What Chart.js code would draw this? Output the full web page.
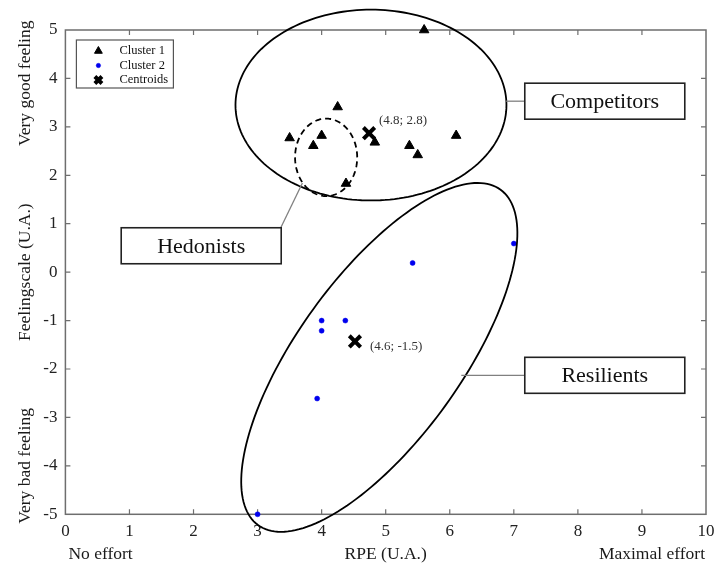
<!DOCTYPE html>
<html><head><meta charset="utf-8">
<script src="https://cdn.jsdelivr.net/npm/chart.js@4/dist/chart.umd.min.js"></script>
<style>html,body{margin:0;padding:0;background:#fff}canvas{display:block}</style>
</head><body>
<canvas id="c" width="718" height="565"></canvas>
<script>
// ---- data ----
const cluster1X = [5.6, 3.5, 3.87, 4.0, 4.25, 4.83, 5.37, 5.5, 6.1, 4.38];
const cluster1Y = [5.0, 2.77, 2.61, 2.82, 3.41, 2.68, 2.61, 2.42, 2.82, 1.83];
const cluster2X = [7.0, 5.42, 4.0, 4.37, 4.0, 3.93, 3.0];
const cluster2Y = [0.59, 0.19, -1.0, -1.0, -1.21, -2.61, -5.0];
const centroidX = [4.74, 4.52];
const centroidY = [2.87, -1.43];
const centroidLabels = ['(4.8; 2.8)', '(4.6; -1.5)'];
const seriesNames = ['Cluster 1', 'Cluster 2', 'Centroids'];
const groupNames = ['Competitors', 'Hedonists', 'Resilients'];
const xRange = [0, 10];
const yRange = [-5, 5];
const xTitle = 'RPE (U.A.)', xLow = 'No effort', xHigh = 'Maximal effort';
const yTitle = 'Feelingscale (U.A.)', yLow = 'Very bad feeling', yHigh = 'Very good feeling';

// ---- annotation geometry (data units) ----
const ellipses = [
  {c:[4.77, 3.45], u:[2.115, 0], v:[0, 1.97], dash:[]},
  {c:[4.07, 2.37], u:[0.485, 0], v:[0, 0.80], dash:[6,4]},
  {c:[4.90, -1.76], u:[1.893, 3.462], v:[1.031, -0.996], dash:[]}
];
const boxes = [
  {c:[8.42, 3.53], link:[[6.88, 3.53],[7.17, 3.53]]},
  {c:[2.12, 0.545], link:[[3.36, 0.912],[3.70, 1.842]]},
  {c:[8.42, -2.13], link:[[6.18, -2.13],[7.17, -2.13]]}
];

const toPts = (xs, ys) => xs.map((x, i) => ({x, y: ys[i]}));
const SERIF = '"Liberation Serif", "DejaVu Serif", serif';

const deco = {
  id: 'deco',
  beforeDatasetsDraw(chart) {
    const ctx = chart.ctx, a = chart.chartArea;
    const xs = chart.scales.x, ys = chart.scales.y;
    ctx.save();
    ctx.strokeStyle = '#6e6e6e'; ctx.lineWidth = 1.5;
    ctx.strokeRect(a.left, a.top, a.right - a.left, a.bottom - a.top);
    ctx.lineWidth = 1.2;
    for (let v = xRange[0] + 1; v < xRange[1]; v++) {
      const px = xs.getPixelForValue(v);
      ctx.beginPath(); ctx.moveTo(px, a.bottom); ctx.lineTo(px, a.bottom - 5);
      ctx.moveTo(px, a.top); ctx.lineTo(px, a.top + 5); ctx.stroke();
    }
    for (let v = yRange[0] + 1; v < yRange[1]; v++) {
      const py = ys.getPixelForValue(v);
      ctx.beginPath(); ctx.moveTo(a.left, py); ctx.lineTo(a.left + 5, py);
      ctx.moveTo(a.right, py); ctx.lineTo(a.right - 5, py); ctx.stroke();
    }
    ctx.restore();
  },
  afterDatasetsDraw(chart) {
    const ctx = chart.ctx, a = chart.chartArea;
    const xs = chart.scales.x, ys = chart.scales.y;
    const P = (p) => [xs.getPixelForValue(p[0]), ys.getPixelForValue(p[1])];
    ctx.save();
    // ellipses
    ctx.strokeStyle = '#000'; ctx.lineWidth = 1.8;
    ellipses.forEach(e => {
      ctx.setLineDash(e.dash);
      ctx.beginPath();
      for (let k = 0; k <= 180; k++) {
        const t = k / 180 * Math.PI * 2;
        const p = P([e.c[0] + e.u[0]*Math.cos(t) + e.v[0]*Math.sin(t),
                     e.c[1] + e.u[1]*Math.cos(t) + e.v[1]*Math.sin(t)]);
        k ? ctx.lineTo(p[0], p[1]) : ctx.moveTo(p[0], p[1]);
      }
      ctx.closePath(); ctx.stroke();
    });
    ctx.setLineDash([]);
    // connectors and boxes
    boxes.forEach((b, i) => {
      ctx.strokeStyle = '#808080'; ctx.lineWidth = 1.3;
      const p0 = P(b.link[0]), p1 = P(b.link[1]);
      ctx.beginPath(); ctx.moveTo(p0[0], p0[1]); ctx.lineTo(p1[0], p1[1]); ctx.stroke();
      const c = P(b.c), w = 160, h = 36;
      ctx.fillStyle = '#fff';
      ctx.fillRect(c[0] - w/2, c[1] - h/2, w, h);
      ctx.strokeStyle = '#222'; ctx.lineWidth = 1.6;
      ctx.strokeRect(c[0] - w/2, c[1] - h/2, w, h);
      ctx.fillStyle = '#111'; ctx.font = '22px ' + SERIF;
      ctx.textAlign = 'center'; ctx.textBaseline = 'middle';
      ctx.fillText(groupNames[i], c[0], c[1] + 1);
    });
    // centroid labels
    ctx.fillStyle = '#333'; ctx.font = '13px ' + SERIF;
    ctx.textAlign = 'left'; ctx.textBaseline = 'middle';
    const offs = [[10, -13], [15, 5]];
    centroidX.forEach((x, i) => {
      const p = P([x, centroidY[i]]);
      ctx.fillText(centroidLabels[i], p[0] + offs[i][0], p[1] + offs[i][1]);
    });
    // legend
    const lx = a.left + 11, ly = a.top + 10, lw = 97, lh = 48;
    ctx.fillStyle = '#fff'; ctx.fillRect(lx, ly, lw, lh);
    ctx.strokeStyle = '#555'; ctx.lineWidth = 1.2; ctx.strokeRect(lx, ly, lw, lh);
    seriesNames.forEach((n, i) => {
      const yy = ly + 11 + i * 14.5;
      const ds = chart.data.datasets[i];
      ctx.fillStyle = ds.backgroundColor; ctx.strokeStyle = ds.borderColor;
      ctx.lineWidth = ds.borderWidth;
      Chart.helpers.drawPoint(ctx, {pointStyle: ds.pointStyle, radius: ds.legendRadius,
        rotation: 0, borderWidth: ds.borderWidth}, lx + 22, yy);
      ctx.font = '12.5px ' + SERIF; ctx.fillStyle = '#111';
      ctx.textAlign = 'left'; ctx.textBaseline = 'middle';
      ctx.fillText(n, lx + 43, yy);
    });
    // axis titles and side labels
    ctx.fillStyle = '#1a1a1a'; ctx.font = '17.5px ' + SERIF;
    ctx.textAlign = 'center'; ctx.textBaseline = 'middle';
    const ty = a.bottom + 40;
    ctx.fillText(xTitle, (a.left + a.right) / 2, ty);
    ctx.textAlign = 'left'; ctx.fillText(xLow, a.left + 3, ty);
    ctx.textAlign = 'right'; ctx.fillText(xHigh, a.right - 1, ty);
    ctx.textAlign = 'center';
    const tx = 25;
    [[yTitle, 0], [yHigh, 3.9], [yLow, -4.0]].forEach(([s, v]) => {
      ctx.save(); ctx.translate(tx, ys.getPixelForValue(v)); ctx.rotate(-Math.PI / 2);
      ctx.fillText(s, 0, 0); ctx.restore();
    });
    ctx.restore();
  }
};

new Chart(document.getElementById('c'), {
  type: 'scatter',
  data: {
    datasets: [
      {label: seriesNames[0], data: toPts(cluster1X, cluster1Y), pointStyle: 'triangle', clip: false,
       radius: 5.5, legendRadius: 4.5, backgroundColor: '#000', borderColor: '#000', borderWidth: 1},
      {label: seriesNames[1], data: toPts(cluster2X, cluster2Y), pointStyle: 'circle', clip: false,
       radius: 2.5, legendRadius: 2.2, backgroundColor: '#0000ee', borderColor: '#0000ee', borderWidth: 0.5},
      {label: seriesNames[2], data: toPts(centroidX, centroidY), pointStyle: 'crossRot', clip: false,
       radius: 8, legendRadius: 5, backgroundColor: '#000', borderColor: '#000', borderWidth: 4}
    ]
  },
  options: {
    responsive: false, animation: false, devicePixelRatio: 1,
    layout: {padding: {top: 30, right: 10, bottom: 0, left: 0}},
    plugins: {legend: {display: false}, tooltip: {enabled: false}},
    scales: {
      x: {type: 'linear', min: xRange[0], max: xRange[1],
          grid: {display: false, drawTicks: false}, border: {display: false},
          ticks: {stepSize: 1, padding: 7, color: '#222', font: {family: SERIF, size: 17}},
          afterFit: s => { s.height = 50.7; s.paddingLeft = 0; s.paddingRight = 0; }},
      y: {type: 'linear', min: yRange[0], max: yRange[1],
          grid: {display: false, drawTicks: false}, border: {display: false},
          ticks: {stepSize: 1, padding: 8, color: '#222', font: {family: SERIF, size: 17}},
          afterFit: s => { s.width = 65.4; s.paddingTop = 0; s.paddingBottom = 0; }}
    }
  },
  plugins: [deco]
});
</script>
</body></html>
